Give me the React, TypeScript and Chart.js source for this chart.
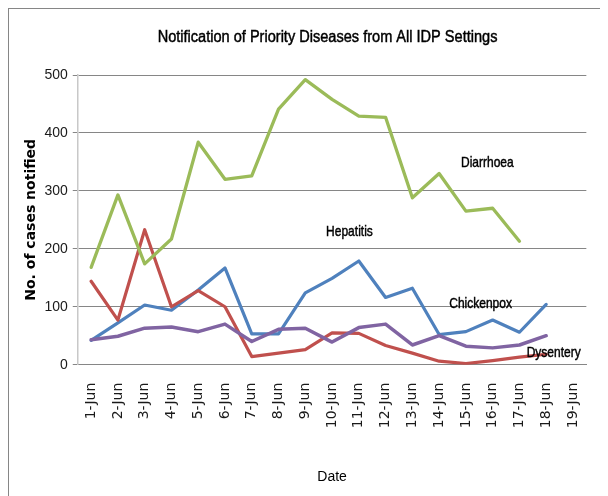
import { useEffect, useRef } from "react";
import { Chart, registerables } from "chart.js";

Chart.register(...registerables);

const categories = [
  "1-Jun", "2-Jun", "3-Jun", "4-Jun", "5-Jun", "6-Jun", "7-Jun", "8-Jun", "9-Jun", "10-Jun",
  "11-Jun", "12-Jun", "13-Jun", "14-Jun", "15-Jun", "16-Jun", "17-Jun", "18-Jun", "19-Jun",
];

const diarrhoea = [168, 293, 174, 217, 384, 320, 326, 441, 492, 458, 429, 427, 288, 330, 265, 270, 213, null, null];
const hepatitis = [42, 72, 103, 94, 129, 167, 53, 53, 124, 149, 179, 116, 132, 52, 57, 77, 56, 104, null];
const dysentery = [144, 77, 233, 100, 128, 100, 14, 20, 26, 55, 54, 33, 20, 6, 2, 7, 13, 18, null];
const chickenpox = [43, 49, 63, 65, 57, 70, 40, 61, 63, 39, 64, 70, 34, 50, 32, 29, 34, 50, null];

const chartTitle = "Notification of Priority Diseases from All IDP Settings";
const yTitle = "No. of cases notified";
const xTitle = "Date";
const yTicks = [0, 100, 200, 300, 400, 500];

// text annotations placed in data units (category index, value)
const noteText = ["Diarrhoea", "Hepatitis", "Chickenpox", "Dysentery"];
const noteCat = [14.8, 9.65, 14.55, 17.28];
const noteVal = [348, 229, 105, 21];

const SANS = "'Liberation Sans', Arial, sans-serif";
const WIDE = "'DejaVu Sans', Verdana, sans-serif";

function drawCondensed(ctx: CanvasRenderingContext2D, text: string, x: number, y: number, sx: number) {
  ctx.save();
  ctx.translate(x, y);
  ctx.scale(sx, 1);
  ctx.fillText(text, 0, 0);
  ctx.strokeText(text, 0, 0);
  ctx.restore();
}

const decorPlugin = {
  id: "decor",
  beforeDraw(chart: any) {
    const { ctx, width, height } = chart;
    ctx.save();
    ctx.fillStyle = "#ffffff";
    ctx.fillRect(0, 0, width, height);
    ctx.strokeStyle = "#868686";
    ctx.lineWidth = 1;
    ctx.strokeRect(0.5, 0.5, width + 20, height + 20);
    ctx.restore();
  },
  afterDraw(chart: any) {
    const { ctx, chartArea } = chart;
    const xs = chart.scales.x;
    const ys = chart.scales.y;
    ctx.save();
    ctx.fillStyle = "#000000";
    ctx.strokeStyle = "#000000";
    ctx.lineWidth = 0.45;
    ctx.textAlign = "center";
    ctx.textBaseline = "alphabetic";
    ctx.font = `16px ${SANS}`;
    drawCondensed(ctx, chartTitle, (chartArea.left + chartArea.right) / 2 - 4.5, 34, 0.91);
    ctx.font = `15px ${SANS}`;
    ctx.textBaseline = "middle";
    for (let i = 0; i < noteText.length; i++) {
      drawCondensed(ctx, noteText[i], xs.getPixelForValue(noteCat[i]), ys.getPixelForValue(noteVal[i]), 0.8);
    }
    ctx.restore();
  },
};

export default function App() {
  const ref = useRef<HTMLCanvasElement | null>(null);

  useEffect(() => {
    if (!ref.current) return;
    const mk = (label: string, data: (number | null)[], color: string, w: number) => ({
      label,
      data,
      borderColor: color,
      backgroundColor: color,
      borderWidth: w,
      pointRadius: 0,
      pointHoverRadius: 0,
      tension: 0,
      fill: false,
      spanGaps: false,
      borderJoinStyle: "round",
      borderCapStyle: "round",
    });
    const chart = new Chart(ref.current, {
      type: "line",
      data: {
        labels: categories,
        datasets: [
          mk("Chickenpox", chickenpox, "#8064A2", 3.5),
          mk("Diarrhoea", diarrhoea, "#9BBB59", 3.3),
          mk("Dysentery", dysentery, "#C0504D", 3.2),
          mk("Hepatitis", hepatitis, "#4F81BD", 3.2),
        ],
      },
      options: {
        responsive: false,
        animation: false,
        devicePixelRatio: 1,
        layout: { padding: { left: 10, right: 9, top: 67, bottom: 10 } },
        plugins: {
          legend: { display: false },
          title: { display: false },
          tooltip: { enabled: false },
        },
        scales: {
          x: {
            offset: true,
            grid: { display: false, drawTicks: false },
            border: { display: true, color: "#868686", width: 1 },
            ticks: {
              autoSkip: false,
              minRotation: 90,
              maxRotation: 90,
              padding: 18,
              color: "#1a1a1a",
              font: { family: WIDE, size: 14 },
            },
            title: {
              display: true,
              text: xTitle,
              color: "#000",
              font: { family: SANS, size: 14 },
              padding: { top: 23, bottom: 0 },
            },
          },
          y: {
            min: 0,
            max: 500,
            afterBuildTicks(scale: any) {
              scale.ticks = yTicks.map((v) => ({ value: v }));
            },
            grid: { color: "#868686", lineWidth: 1, tickLength: 5, drawTicks: true },
            border: { display: true, color: "#c8c8c8", width: 1.5 },
            ticks: {
              padding: 5,
              color: "#1a1a1a",
              font: { family: SANS, size: 14 },
            },
            title: {
              display: true,
              text: yTitle,
              color: "#000",
              font: { family: WIDE, size: 14, weight: "bold" },
              padding: { top: 4.6, bottom: 0 },
            },
          },
        },
      },
      plugins: [decorPlugin],
    } as any);
    return () => chart.destroy();
  }, []);

  return <canvas ref={ref} width={600} height={488} style={{ display: "block" }} />;
}
